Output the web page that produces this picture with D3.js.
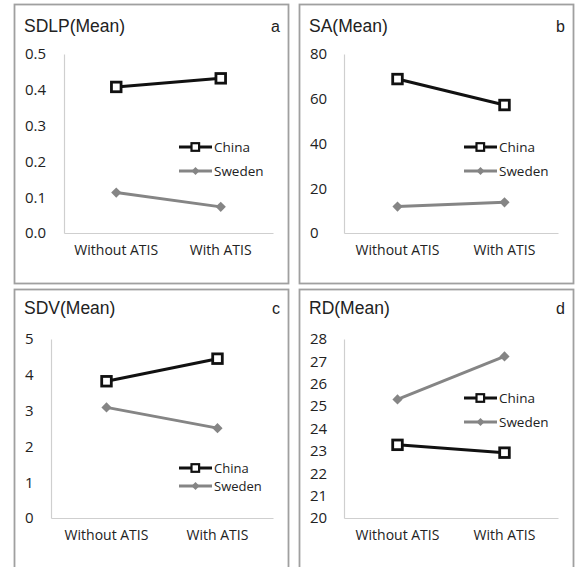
<!DOCTYPE html>
<html lang="en">
<head>
    <title>ATIS comparison, China vs Sweden</title>
    <style>
        body, html { margin: 0; background: #fff; }
        svg { display: block; }
    </style>
    <script src="https://d3js.org/d3.v7.min.js"></script>
</head>
<body>
    <svg width="576" height="567"></svg>

    <script>
        const categories = ["Without ATIS", "With ATIS"];
        const seriesNames = ["China", "Sweden"];

        const sdlpChina = [0.408, 0.432];
        const sdlpSweden = [0.113, 0.073];
        const saChina = [68.8, 57.2];
        const saSweden = [11.8, 13.7];
        const sdvChina = [3.82, 4.45];
        const sdvSweden = [3.09, 2.51];
        const rdChina = [23.27, 22.92];
        const rdSweden = [25.3, 27.22];

        const sdlpTicks = ["0.0", "0.1", "0.2", "0.3", "0.4", "0.5"];
        const saTicks = ["0", "20", "40", "60", "80"];
        const sdvTicks = ["0", "1", "2", "3", "4", "5"];
        const rdTicks = ["20", "21", "22", "23", "24", "25", "26", "27", "28"];

        const svg = d3.select("svg");

        // frame position and plot offsets for each of the four panels
        const panels = [
            { title: "SDLP(Mean)", letter: "a", china: sdlpChina, sweden: sdlpSweden, ticks: sdlpTicks,
              fx: 14, fy: 4, fw: 274, fh: 279, axisX: 50, titleY: 28, legY: 143, legGap: 24 },
            { title: "SA(Mean)", letter: "b", china: saChina, sweden: saSweden, ticks: saTicks,
              fx: 299, fy: 4, fw: 274, fh: 279, axisX: 45, titleY: 28, legY: 143, legGap: 24 },
            { title: "SDV(Mean)", letter: "c", china: sdvChina, sweden: sdvSweden, ticks: sdvTicks,
              fx: 14, fy: 289, fw: 274, fh: 290, axisX: 37, titleY: 25, legY: 179, legGap: 18 },
            { title: "RD(Mean)", letter: "d", china: rdChina, sweden: rdSweden, ticks: rdTicks,
              fx: 299, fy: 289, fw: 274, fh: 290, axisX: 45, titleY: 25, legY: 109, legGap: 24 }
        ];

        const colors = { China: "#111111", Sweden: "#858585" };

        panels.forEach(p => {
            const g = svg.append("g").attr("transform", `translate(${p.fx},${p.fy})`);

            g.append("rect")
                .attr("x", 0.5).attr("y", 0.5)
                .attr("width", p.fw).attr("height", p.fh)
                .attr("fill", "#fff")
                .attr("stroke", "#a0a0a0")
                .attr("stroke-width", 1.8);

            g.append("text")
                .attr("x", 10).attr("y", p.titleY)
                .attr("font-family", "Liberation Sans, Arial, sans-serif")
                .attr("font-size", 17.5)
                .attr("fill", "#222")
                .text(p.title);

            g.append("text")
                .attr("x", p.fw - 8).attr("y", p.titleY)
                .attr("text-anchor", "end")
                .attr("font-family", "Liberation Sans, Arial, sans-serif")
                .attr("font-size", 16)
                .attr("fill", "#222")
                .text(p.letter);

            const yTop = 50, yBot = 229, xRight = 259;
            const tickVals = p.ticks.map(Number);

            const x = d3.scaleBand()
                .domain(categories)
                .range([p.axisX, xRight]);

            const y = d3.scaleLinear()
                .domain(d3.extent(tickVals))
                .range([yBot, yTop]);

            const yAxis = g.append("g")
                .attr("transform", `translate(${p.axisX},0)`)
                .call(d3.axisLeft(y).tickValues(tickVals).tickSize(0)
                    .tickFormat((d, i) => p.ticks[i]));
            yAxis.select(".domain").attr("stroke", "#cfcfcf").attr("stroke-width", 1.2);
            yAxis.selectAll("text")
                .attr("text-anchor", "start")
                .attr("x", -(p.axisX - 11))
                .attr("font-family", "Open Sans, sans-serif")
                .attr("font-size", 15)
                .attr("fill", "#222");

            const xAxis = g.append("g")
                .attr("transform", `translate(0,${yBot})`)
                .call(d3.axisBottom(x).tickSize(0).tickPadding(12));
            xAxis.select(".domain").attr("stroke", "#cfcfcf").attr("stroke-width", 1.2);
            xAxis.selectAll("text")
                .attr("font-family", "Open Sans, sans-serif")
                .attr("font-size", 14)
                .attr("fill", "#222");

            const cx = c => x(c) + x.bandwidth() / 2;
            const line = d3.line().x((d, i) => cx(categories[i])).y(d => y(d));

            const series = [
                { name: "China", values: p.china },
                { name: "Sweden", values: p.sweden }
            ];

            series.forEach(s => {
                g.append("path")
                    .datum(s.values)
                    .attr("d", line)
                    .attr("fill", "none")
                    .attr("stroke", colors[s.name])
                    .attr("stroke-width", 3);
            });

            // Sweden diamonds
            g.selectAll(".diamond")
                .data(p.sweden)
                .join("path")
                .attr("class", "diamond")
                .attr("transform", (d, i) => `translate(${cx(categories[i])},${y(d)}) rotate(45)`)
                .attr("d", "M-3.6,-3.6H3.6V3.6H-3.6Z")
                .attr("fill", colors.Sweden);

            // China open squares
            g.selectAll(".square")
                .data(p.china)
                .join("rect")
                .attr("class", "square")
                .attr("x", (d, i) => cx(categories[i]) - 4.8)
                .attr("y", d => y(d) - 4.8)
                .attr("width", 9.6).attr("height", 9.6)
                .attr("fill", "#fff")
                .attr("stroke", colors.China)
                .attr("stroke-width", 2.8);

            // legend
            const leg = g.append("g").attr("transform", `translate(165,${p.legY})`);
            seriesNames.forEach((name, i) => {
                const ly = i * p.legGap;
                leg.append("line")
                    .attr("x1", 0).attr("x2", 33)
                    .attr("y1", ly).attr("y2", ly)
                    .attr("stroke", colors[name])
                    .attr("stroke-width", 3);
                if (name === "China") {
                    leg.append("rect")
                        .attr("x", 12.5).attr("y", ly - 3.8)
                        .attr("width", 7.6).attr("height", 7.6)
                        .attr("fill", "#fff")
                        .attr("stroke", colors.China)
                        .attr("stroke-width", 2.2);
                } else {
                    leg.append("path")
                        .attr("transform", `translate(16.5,${ly}) rotate(45)`)
                        .attr("d", "M-2.8,-2.8H2.8V2.8H-2.8Z")
                        .attr("fill", colors.Sweden);
                }
                leg.append("text")
                    .attr("x", 35).attr("y", ly)
                    .attr("dy", "0.35em")
                    .attr("font-family", "Open Sans, sans-serif")
                    .attr("font-size", p.legGap < 20 ? 13 : 13.5)
                    .attr("fill", "#222")
                    .text(name);
            });
        });
    </script>
</body>
</html>
